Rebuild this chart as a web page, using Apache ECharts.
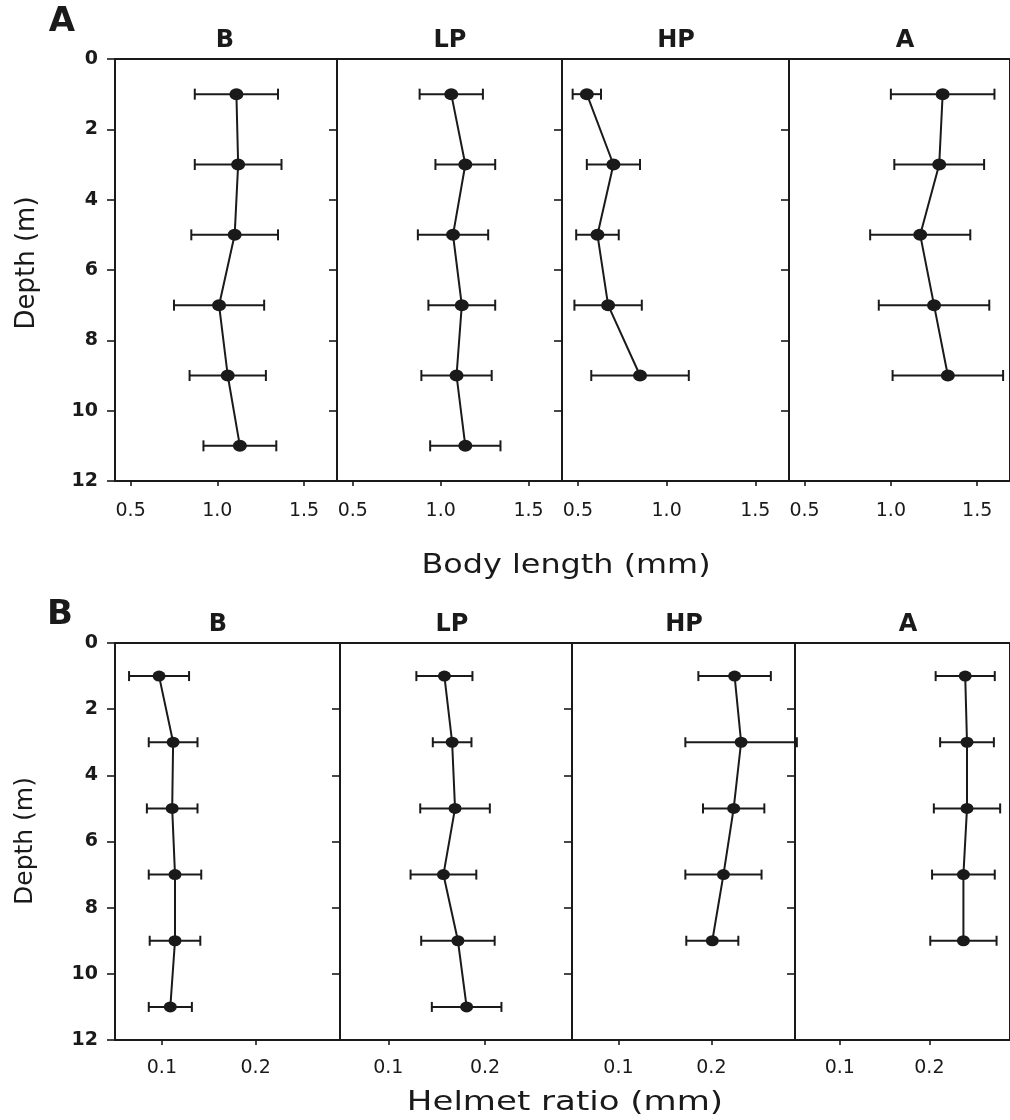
<!DOCTYPE html>
<html>
<head>
<meta charset="utf-8">
<script src="https://cdn.jsdelivr.net/npm/echarts@6/dist/echarts.min.js"></script>
<style>
  html, body { margin: 0; padding: 0; background: #fff; }
  #chart { width: 1010px; height: 1120px; }
</style>
</head>
<body>
<div id="chart"></div>
<script>
// Sampling depths (m)
const depths = [1, 3, 5, 7, 9, 11];
const treatments = ['B', 'LP', 'HP', 'A'];

// Body length (mm): mean and SD per depth
const bodyMeanB  = [1.11, 1.12, 1.10, 1.01, 1.06, 1.13];
const bodySdB    = [0.24, 0.25, 0.25, 0.26, 0.22, 0.21];
const bodyMeanLP = [1.06, 1.14, 1.07, 1.12, 1.09, 1.14];
const bodySdLP   = [0.18, 0.17, 0.20, 0.19, 0.20, 0.20];
const bodyMeanHP = [0.55, 0.70, 0.61, 0.67, 0.85];
const bodySdHP   = [0.08, 0.15, 0.12, 0.19, 0.275];
const bodyMeanA  = [1.30, 1.28, 1.17, 1.25, 1.33];
const bodySdA    = [0.30, 0.26, 0.29, 0.32, 0.32];

// Helmet ratio (mm): mean and SD per depth
const helmMeanB  = [0.097, 0.112, 0.111, 0.114, 0.114, 0.109];
const helmSdB    = [0.032, 0.026, 0.027, 0.028, 0.027, 0.023];
const helmMeanLP = [0.158, 0.166, 0.169, 0.157, 0.172, 0.181];
const helmSdLP   = [0.029, 0.020, 0.036, 0.034, 0.038, 0.036];
const helmMeanHP = [0.225, 0.232, 0.224, 0.213, 0.201];
const helmSdHP   = [0.039, 0.060, 0.033, 0.041, 0.028];
const helmMeanA  = [0.240, 0.242, 0.242, 0.238, 0.238];
const helmSdA    = [0.033, 0.030, 0.037, 0.035, 0.037];

// Axis ticks
const depthTicks = [0, 2, 4, 6, 8, 10, 12];
const bodyTicks = [0.5, 1.0, 1.5];
const helmTicks = [0.1, 0.2];

const INK = '#1a1a1a';
const FONT = '"DejaVu Sans", "Liberation Sans", sans-serif';

const rows = [
  {
    top: 59, height: 422, min: 0.41, max: 1.69, ticks: bodyTicks, labelMargin: 21,
    boxes: [[115, 222], [337, 225], [562, 227], [789, 228]],
    means: [bodyMeanB, bodyMeanLP, bodyMeanHP, bodyMeanA],
    sds: [bodySdB, bodySdLP, bodySdHP, bodySdA],
    cap: 5.5, sym: [14, 12]
  },
  {
    top: 643, height: 397, min: 0.05, max: 0.29, ticks: helmTicks, labelMargin: 19,
    boxes: [[115, 225], [340, 232], [572, 223], [795, 225]],
    means: [helmMeanB, helmMeanLP, helmMeanHP, helmMeanA],
    sds: [helmSdB, helmSdLP, helmSdHP, helmSdA],
    cap: 5, sym: [13, 11]
  }
];

function errorBar(cap) {
  return function (params, api) {
    const lo = api.coord([api.value(0), api.value(2)]);
    const hi = api.coord([api.value(1), api.value(2)]);
    const st = { stroke: INK, lineWidth: 2 };
    return {
      type: 'group',
      children: [
        { type: 'line', shape: { x1: lo[0], y1: lo[1], x2: hi[0], y2: hi[1] }, style: st },
        { type: 'line', shape: { x1: lo[0], y1: lo[1] - cap, x2: lo[0], y2: lo[1] + cap }, style: st },
        { type: 'line', shape: { x1: hi[0], y1: hi[1] - cap, x2: hi[0], y2: hi[1] + cap }, style: st }
      ]
    };
  };
}

const grid = [], xAxis = [], yAxis = [], series = [];
let idx = 0;
rows.forEach(function (row) {
  row.boxes.forEach(function (box, col) {
    grid.push({
      left: box[0], width: box[1], top: row.top, height: row.height,
      show: true, borderColor: INK, borderWidth: 2, backgroundColor: 'transparent'
    });
    xAxis.push({
      gridIndex: idx, type: 'value', min: row.min, max: row.max,
      axisLine: { show: true, onZero: false, lineStyle: { color: INK, width: 2 } },
      splitLine: { show: false },
      axisTick: { show: true, customValues: row.ticks, length: 5, lineStyle: { color: INK, width: 1.6 } },
      axisLabel: {
        customValues: row.ticks, formatter: function (v) { return v.toFixed(1); },
        margin: row.labelMargin, fontSize: 19, fontFamily: FONT, color: INK
      }
    });
    yAxis.push({
      gridIndex: idx, type: 'value', inverse: true, min: 0, max: 12, interval: 2,
      axisLine: { show: true, onZero: false, lineStyle: { color: INK, width: 2 } },
      splitLine: { show: false },
      axisTick: { show: true, length: 8, lineStyle: { color: INK, width: 1.6 } },
      axisLabel: {
        show: col === 0, margin: 17, fontSize: 19, fontWeight: 'bold',
        fontFamily: FONT, color: INK,
        customValues: depthTicks
      }
    });
    const m = row.means[col], s = row.sds[col];
    const bars = m.map(function (v, i) { return [v - s[i], v + s[i], depths[i]]; });
    const pts = m.map(function (v, i) { return [v, depths[i]]; });
    series.push({
      type: 'custom', xAxisIndex: idx, yAxisIndex: idx, clip: false, z: 2,
      renderItem: errorBar(row.cap), encode: { x: [0, 1], y: 2 }, data: bars,
      silent: true
    });
    series.push({
      type: 'line', xAxisIndex: idx, yAxisIndex: idx, z: 3, clip: false,
      data: pts, symbol: 'circle', symbolSize: row.sym, showSymbol: true,
      itemStyle: { color: INK }, lineStyle: { color: INK, width: 2 },
      animation: false, silent: true
    });
    idx++;
  });
});

function label(text, x, y, size, bold, extra) {
  return Object.assign({
    type: 'text', x: x, y: y, z: 10,
    style: {
      text: text, fontSize: size, fontWeight: bold ? 'bold' : 'normal',
      fontFamily: FONT, fill: INK, align: 'center', verticalAlign: 'middle'
    }
  }, extra || {});
}

const graphic = [
  label('A', 62, 22, 34, true),
  label('B', 60, 615, 34, true),
  label('Depth (m)', 27, 263, 26, false, { rotation: Math.PI / 2 }),
  label('Depth (m)', 25, 841, 25, false, { rotation: Math.PI / 2 }),
  label('Body length (mm)', 566, 566, 27, false, { scaleX: 1.18 }),
  label('Helmet ratio (mm)', 565, 1103, 27, false, { scaleX: 1.26 })
];
const titleX = [[225, 450, 676, 905], [218, 452, 684, 908]];
const titleY = [41, 625];
[0, 1].forEach(function (r) {
  treatments.forEach(function (t, c) {
    graphic.push(label(t, titleX[r][c], titleY[r], 24, true));
  });
});

const chart = echarts.init(document.getElementById('chart'), null, { renderer: 'canvas' });
chart.setOption({
  backgroundColor: '#fff',
  animation: false,
  grid: grid, xAxis: xAxis, yAxis: yAxis, series: series, graphic: graphic
});
</script>
</body>
</html>
